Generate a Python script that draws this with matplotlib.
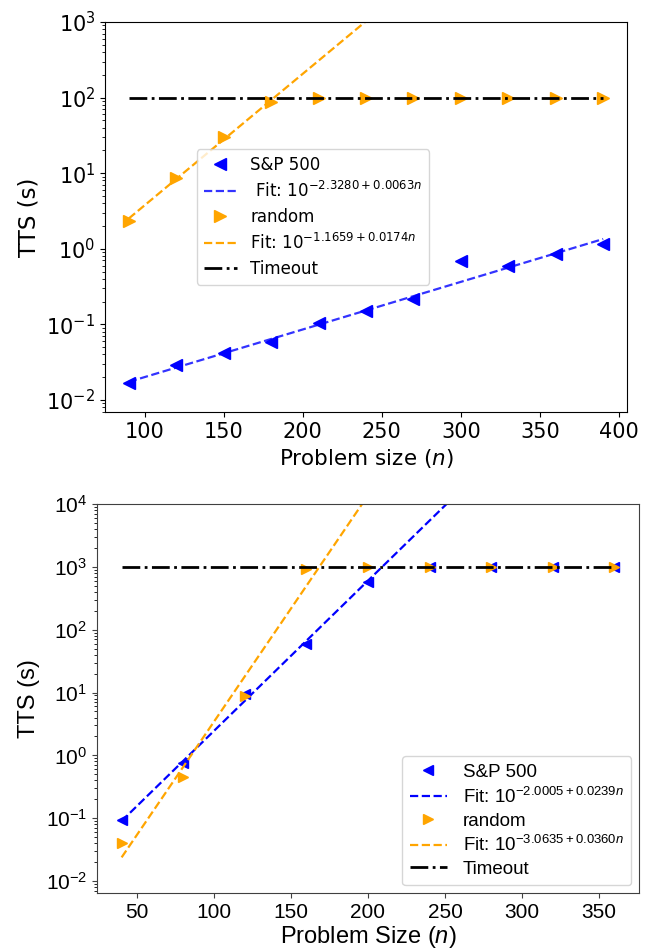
import numpy as np
import matplotlib
matplotlib.use('Agg')
import matplotlib.pyplot as plt

# Data
# ----------------------------
# top panel
n_top = [90, 120, 150, 180, 210, 240, 270, 300, 330, 360, 390]
sp_tts_top = [0.0165, 0.029, 0.0415, 0.059, 0.103, 0.148, 0.215, 0.685, 0.59, 0.84, 1.15]
rand_tts_top = [2.33, 8.75, 29.7, 88.5, 100, 100, 100, 100, 100, 100, 100]
sp_fit_top = (-2.3280, 0.0063)
rand_fit_top = (-1.1659, 0.0174)
timeout_top = 100

# bottom panel
n_bot = [40, 80, 120, 160, 200, 240, 280, 320, 360]
sp_tts_bot = [0.093, 0.76, 9.4, 60, 580, 1000, 1000, 1000, 1000]
rand_tts_bot = [0.041, 0.46, 8.7, 940, 1000, 1000, 1000, 1000, 1000]
sp_fit_bot = (-2.0005, 0.0239)
rand_fit_bot = (-3.0635, 0.0360)
timeout_bot = 1000

plt.rcParams['mathtext.fontset'] = 'dejavusans'
plt.rcParams['mathtext.rm'] = 'Liberation Sans'
plt.rcParams['mathtext.it'] = 'Liberation Sans:italic'
plt.rcParams['mathtext.bf'] = 'Liberation Sans:bold'
plt.rcParams['mathtext.sf'] = 'Liberation Sans'

fig = plt.figure(figsize=(6.54, 9.52), dpi=100)


def fit_line(n, coef):
    n = np.asarray(n, dtype=float)
    return 10 ** (coef[0] + coef[1] * n)


def fit_label(coef, lead=''):
    return lead + r'Fit: $10^{%.4f + %.4fn}$' % (coef[0], coef[1])


# 1. Top panel (DejaVu Sans)
# --------------------------
ax1 = fig.add_axes([0.1606, 0.5672, 0.798, 0.4097])
ax1.plot(n_top, sp_tts_top, '<', color='blue', markersize=9, label='S&P 500')
ax1.plot(n_top, fit_line(n_top, sp_fit_top), '--', color='blue', alpha=0.8, lw=1.6,
         label=fit_label(sp_fit_top, ' '))
ax1.plot(n_top, rand_tts_top, '>', color='orange', markersize=9, label='random')
ax1.plot(n_top, fit_line(n_top, rand_fit_top), '--', color='orange', lw=1.6,
         label=fit_label(rand_fit_top))
ax1.plot(n_top, [timeout_top] * len(n_top), 'k-.', lw=2, label='Timeout')
ax1.set_yscale('log')
ax1.set_ylim(10 ** -2.16, 1e3)
ax1.set_xticks([100, 150, 200, 250, 300, 350, 400])
ax1.tick_params(labelsize=15)
ax1.set_xlabel('Problem size ($n$)', fontsize=15.5, family='DejaVu Sans')
ax1.set_ylabel('TTS (s)', fontsize=16.5, family='DejaVu Sans')
ax1.legend(loc='center left', bbox_to_anchor=(0.16, 0.5),
           prop={'family': 'DejaVu Sans', 'size': 12}, labelspacing=0.42)

# 2. Bottom panel (Helvetica-like)
# --------------------------------
sans = 'Liberation Sans'
ax2 = fig.add_axes([0.1483, 0.062, 0.8287, 0.4086])
ax2.plot(n_bot, sp_tts_bot, '<', color='blue', markersize=7, label='S&P 500')
ax2.plot(n_bot, fit_line(n_bot, sp_fit_bot), '--', color='blue', lw=1.6,
         label=fit_label(sp_fit_bot))
ax2.plot(n_bot, rand_tts_bot, '>', color='orange', markersize=7, label='random')
ax2.plot(n_bot, fit_line(n_bot, rand_fit_bot), '--', color='orange', lw=1.6,
         label=fit_label(rand_fit_bot))
ax2.plot(n_bot, [timeout_bot] * len(n_bot), 'k-.', lw=2, label='Timeout')
ax2.set_yscale('log')
ax2.set_ylim(10 ** -2.19, 1e4)
ax2.set_xticks([50, 100, 150, 200, 250, 300, 350])
ax2.tick_params(labelsize=15, color='0.25')
for sp in ax2.spines.values():
    sp.set_color('0.25')
xl = ax2.set_xlabel('Problem Size ($n$)', fontsize=17, family=sans, labelpad=2)
yl = ax2.set_ylabel('TTS (s)', fontsize=17, family=sans)
xl.set_math_fontfamily('custom')
leg2 = ax2.legend(loc='lower right', prop={'family': sans, 'size': 13.5},
                  labelspacing=0.3, handletextpad=0.85, borderaxespad=0.4)
for t in leg2.get_texts():
    t.set_math_fontfamily('custom')

# fix fonts of the tick labels once the ticks exist
fig.canvas.draw()
for lab in ax1.get_xticklabels() + ax1.get_yticklabels():
    lab.set_family('DejaVu Sans')
    lab.set_math_fontfamily('dejavusans')
for lab in ax2.get_xticklabels() + ax2.get_yticklabels():
    lab.set_family(sans)
    lab.set_math_fontfamily('custom')

fig.savefig('out.png', dpi=100)
